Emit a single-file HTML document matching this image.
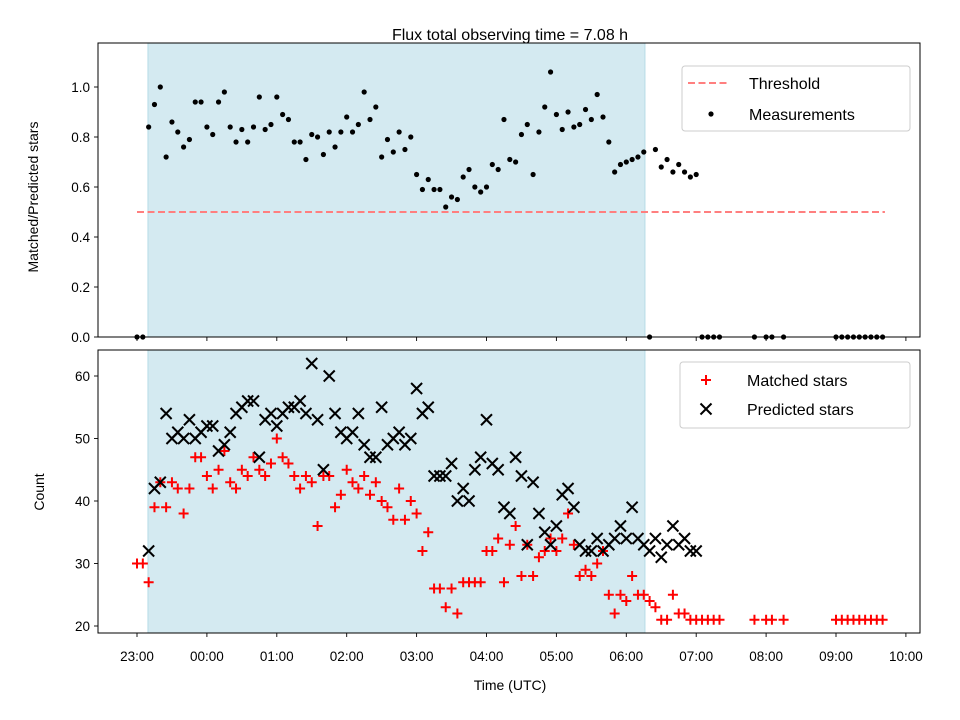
<!DOCTYPE html>
<html><head><meta charset="utf-8"><style>
body{margin:0;background:#fff}
svg{display:block;font-family:"Liberation Sans","DejaVu Sans",sans-serif}
</style></head><body>
<svg id="chart" width="960" height="720" viewBox="0 0 960 720" xmlns="http://www.w3.org/2000/svg">
<rect width="960" height="720" fill="#fff"/>
<g id="top"></g><g id="bot"></g>
<text transform="translate(38,197) rotate(-90)" font-size="14" text-anchor="middle">Matched/Predicted stars</text>
<text transform="translate(44,492) rotate(-90)" font-size="14" text-anchor="middle">Count</text>
<text x="510" y="690" font-size="14" text-anchor="middle">Time (UTC)</text>
<text x="510" y="40" font-size="16" text-anchor="middle" fill="#000">Flux total observing time = 7.08 h</text>
</svg>
<script>
const xTickLabels=["23:00","00:00","01:00","02:00","03:00","04:00","05:00","06:00","07:00","08:00","09:00","10:00"];
const topTicks=[0.0,0.2,0.4,0.6,0.8,1.0];
const botTicks=[20,30,40,50,60];
const shadeStart=9.4, shadeEnd=436;
const threshold=0.5, thresholdStart=0, thresholdEnd=642;
const mainTimes=[0,5,10,15,20,25,30,35,40,45,50,55,60,65,70,75,80,85,90,95,100,105,110,115,120,125,130,135,140,145,150,155,160,165,170,175,180,185,190,195,200,205,210,215,220,225,230,235,240,245,250,255,260,265,270,275,280,285,290,295,300,305,310,315,320,325,330,335,340,345,350,355,360,365,370,375,380,385,390,395,400,405,410,415,420,425,430,435,440,445,450,455,460,465,470,475,480];
const ratioValues=[0,0,0.84,0.93,1.00,0.72,0.86,0.82,0.76,0.79,
0.94,0.94,0.84,0.81,0.94,0.98,0.84,0.78,0.83,0.78,
0.84,0.96,0.83,0.85,0.96,0.89,0.87,0.78,0.78,0.71,
0.81,0.80,0.73,0.82,0.76,0.82,0.88,0.82,0.85,0.98,
0.87,0.92,0.72,0.79,0.74,0.82,0.75,0.80,0.65,0.59,
0.63,0.59,0.59,0.52,0.56,0.55,0.64,0.67,0.60,0.58,
0.60,0.69,0.67,0.87,0.71,0.70,0.81,0.85,0.65,0.82,
0.92,1.06,0.89,0.83,0.90,0.84,0.85,0.91,0.87,0.97,
0.88,0.78,0.66,0.69,0.70,0.71,0.72,0.74,0,0.75,
0.68,0.71,0.66,0.69,0.66,0.64,0.65];
const lateTimes=[485,490,495,500,530,540,545,555,600,605,610,615,620,625,630,635,640];
const lateRatio=[0,0,0,0,0,0,0,0,0,0,0,0,0,0,0,0,0];
const lateMatched=[21,21,21,21,21,21,21,21,21,21,21,21,21,21,21,21,21];
const matchedValues=[30,30,27,39,43,39,43,42,38,42,
47,47,44,42,45,48,43,42,45,44,
47,45,44,46,50,47,46,44,42,44,
43,36,44,44,39,41,45,43,42,44,
41,43,40,39,37,42,37,40,38,32,
35,26,26,23,26,22,27,27,27,27,
32,32,34,27,33,36,28,33,28,31,
32,34,32,34,38,33,28,29,28,30,
32,25,22,25,24,28,25,25,24,23,
21,21,25,22,22,21,21];
const predTimes=mainTimes.slice(2);
const predictedValues=[32,42,43,54,50,51,50,53,50,51,
52,52,48,49,51,54,55,56,56,47,
53,54,52,54,55,55,56,54,62,53,
45,60,54,51,50,51,54,49,47,47,
55,49,50,51,49,50,58,54,55,44,
44,44,46,40,42,40,45,47,53,46,
45,39,38,47,44,33,43,38,35,33,
36,41,42,39,33,32,32,34,32,33,
34,36,34,39,34,33,32,34,31,33,
36,33,34,32,32];

const NS="http://www.w3.org/2000/svg";
function mk(p,tag,attrs){const e=document.createElementNS(NS,tag);for(const k in attrs)e.setAttribute(k,attrs[k]);p.appendChild(e);return e;}
const L=98,R=920;
const xs=m=>137+m*69.9/60;
const T={top:43,bot:337}, B={top:350,bot:633};
const yT=v=>337-v*250;
const yB=v=>626-(v-20)*6.25;
function axes(g,box,ys,ticks,fmt,showX,prefix){
  const sh=mk(g,'rect',{x:xs(shadeStart),y:box.top,width:xs(shadeEnd)-xs(shadeStart),height:box.bot-box.top,fill:'#d4eaf1',stroke:'#b6dbe7','stroke-width':1});
  
  
  ticks.forEach(t=>{
    const y=ys(t);
    const tl=mk(g,'line',{x1:L-4,x2:L,y1:y,y2:y,stroke:'#000','stroke-width':0.9});
    
    
    const tx=mk(g,'text',{x:L-8,y:y+5,'font-size':13.5,'text-anchor':'end'});
    tx.textContent=fmt(t);
    
    
  });
  xTickLabels.forEach((lab,i)=>{
    const x=xs(i*60);
    const tl=mk(g,'line',{x1:x,x2:x,y1:box.bot,y2:box.bot+4,stroke:'#000','stroke-width':0.9});
    
    
    if(showX){
      const tx=mk(g,'text',{x:x,y:box.bot+28,'font-size':13.5,'text-anchor':'middle'});
      tx.textContent=lab;
      
      
    }
  });
}
function frame(g,box,prefix){
  const f=mk(g,'rect',{x:L,y:box.top,width:R-L,height:box.bot-box.top,fill:'none',stroke:'#000','stroke-width':1});
  
  
}
function dot(g,x,y){const c=mk(g,'circle',{cx:x,cy:y,r:2.6,fill:'#000'});}
function plus(g,x,y){const p=mk(g,'path',{d:`M${x-5} ${y}H${x+5}M${x} ${y-5}V${y+5}`,stroke:'#f00','stroke-width':2,fill:'none'});}
function cross(g,x,y){const p=mk(g,'path',{d:`M${x-5.5} ${y-5.5}L${x+5.5} ${y+5.5}M${x-5.5} ${y+5.5}L${x+5.5} ${y-5.5}`,stroke:'#000','stroke-width':2,fill:'none'});}

const gt=document.getElementById('top');
axes(gt,T,yT,topTicks,t=>t.toFixed(1),false,'top');
const th=mk(gt,'line',{x1:xs(thresholdStart),x2:xs(thresholdEnd),y1:yT(threshold),y2:yT(threshold),stroke:'#ff7f7f','stroke-width':2,'stroke-dasharray':'7,3.5'});


mainTimes.forEach((t,i)=>dot(gt,xs(t),yT(ratioValues[i])));
lateTimes.forEach((t,i)=>dot(gt,xs(t),yT(lateRatio[i])));
frame(gt,T,'top');
const lg=mk(gt,'g',{});


mk(lg,'rect',{x:682,y:66,width:228,height:65,rx:3,fill:'#fff','fill-opacity':0.85,stroke:'#ccc'});
mk(lg,'line',{x1:688,x2:730,y1:83,y2:83,stroke:'#ff7f7f','stroke-width':2,'stroke-dasharray':'7,3.5'});
const t1=mk(lg,'text',{x:749,y:89,'font-size':16});t1.textContent='Threshold';
mk(lg,'circle',{cx:711,cy:114,r:2.6,fill:'#000'});
const t2=mk(lg,'text',{x:749,y:120,'font-size':16});t2.textContent='Measurements';

const gb=document.getElementById('bot');
axes(gb,B,yB,botTicks,t=>String(t),true,'bottom');
mainTimes.forEach((t,i)=>plus(gb,xs(t),yB(matchedValues[i])));
lateTimes.forEach((t,i)=>plus(gb,xs(t),yB(lateMatched[i])));
predTimes.forEach((t,i)=>cross(gb,xs(t),yB(predictedValues[i])));
frame(gb,B,'bottom');
const lb=mk(gb,'g',{});


mk(lb,'rect',{x:680,y:362,width:230,height:66,rx:3,fill:'#fff','fill-opacity':0.85,stroke:'#ccc'});
mk(lb,'path',{d:'M701 380H711M706 375V385',stroke:'#f00','stroke-width':2});
const t3=mk(lb,'text',{x:747,y:386,'font-size':16});t3.textContent='Matched stars';
mk(lb,'path',{d:'M700.5 403.5L711.5 414.5M700.5 414.5L711.5 403.5',stroke:'#000','stroke-width':2});
const t4=mk(lb,'text',{x:747,y:415,'font-size':16});t4.textContent='Predicted stars';
</script>
</body></html>
